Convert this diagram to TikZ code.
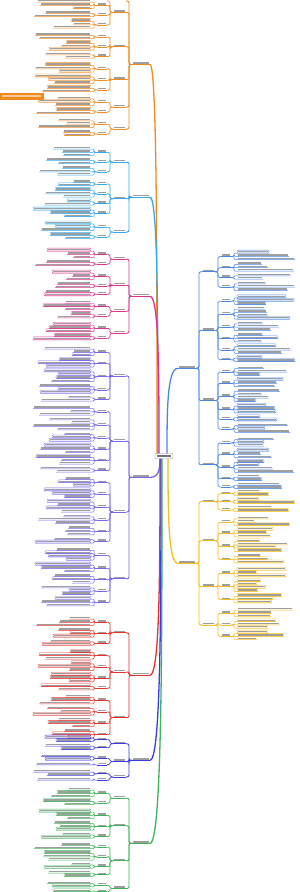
\documentclass[tikz,border=0pt]{standalone}
\usetikzlibrary{calc}
\definecolor{cOr}{HTML}{F28A1E}
\definecolor{cLb}{HTML}{33AAEE}
\definecolor{cMg}{HTML}{E0338F}
\definecolor{cPu}{HTML}{7466EE}
\definecolor{cRd}{HTML}{E8302A}
\definecolor{cBl}{HTML}{3A3AE8}
\definecolor{cGr}{HTML}{3DB35A}
\definecolor{cRb}{HTML}{4A86E8}
\definecolor{cYe}{HTML}{F7BE1A}
\tikzset{txt/.style={fill=black!38}}
\newcommand\dl{3.3}
\newcommand\gthree{1.5}
\newcommand\gtwo{2.5}
\newcommand\sd{-1}
\newcommand\bc{cOr}
\newcommand\tx{158}
\newcommand\curY{0}
\newcommand\lthreeF{}\newcommand\lthreeL{}\newcommand\lthreeList{}
\newcommand\ltwoF{}\newcommand\ltwoL{}\newcommand\ltwoList{}
\newcommand\xp[1]{(164+(\sd)*(#1))}
\newcommand\labl[4]{%
 \draw[\bc,line width=#4] ({\xp{#2}},#1) -- ({\xp{#3}},#1);
 \fill[txt] ({\xp{#2+1}},{#1-0.8}) rectangle ({\xp{#3-1}},{#1-2.1});}
\newcommand\B[4]{\xdef\bc{#1}\xdef\sd{#2}\xdef\curY{#3}\xdef\tx{#4}}
\newcommand\G[1]{%
 \pgfmathsetmacro\yA{\curY+2}%
 \pgfmathsetmacro\yB{\yA+(#1-1)*\dl}%
 \pgfmathsetmacro\yM{(\yA+\yB)/2}%
 \labl{\yM}{57}{67}{.6pt}%
 \foreach \i in {1,...,#1}{%
   \pgfmathsetmacro\yy{\yA+(\i-1)*\dl}%
   \pgfmathrandominteger{\ww}{18}{58}%
   \pgfmathrandominteger{\bx}{0}{1}%
   \draw[\bc,line width=.5pt,rounded corners=1pt] ({\xp{67}},\yM) -- ({\xp{70}},\yM) |- ({\xp{73}},\yy) -- ({\xp{73+\ww}},\yy);
   \ifnum\bx=0 \draw[\bc,line width=.35pt,rounded corners=.8pt] ({\xp{73}},\yy) rectangle ({\xp{73+\ww}},{\yy-2.9});\fi
   \fill[txt] ({\xp{74}},{\yy-0.8}) rectangle ({\xp{72+\ww}},{\yy-2.1});
 }%
 \ifx\lthreeF\empty\xdef\lthreeF{\yM}\xdef\lthreeList{\yM}\else\xdef\lthreeList{\lthreeList,\yM}\fi
 \xdef\lthreeL{\yM}%
 \pgfmathsetmacro\tmp{\yB+\dl-2+\gthree}\xdef\curY{\tmp}%
}
\newcommand\T{%
 \pgfmathsetmacro\yT{(\lthreeF+\lthreeL)/2}%
 \labl{\yT}{38}{51}{.8pt}%
 \foreach \q in \lthreeList {\draw[\bc,line width=.7pt,rounded corners=1.5pt] ({\xp{51}},\yT) -- ({\xp{54}},\yT) |- ({\xp{57}},\q);}%
 \ifx\ltwoF\empty\xdef\ltwoF{\yT}\xdef\ltwoList{\yT}\else\xdef\ltwoList{\ltwoList,\yT}\fi
 \xdef\ltwoL{\yT}%
 \xdef\lthreeF{}\xdef\lthreeL{}\xdef\lthreeList{}%
 \pgfmathsetmacro\tmp{\curY+\gtwo}\xdef\curY{\tmp}%
}
\newcommand\M{%
 \pgfmathsetmacro\yR{(\ltwoF+\ltwoL)/2}%
 \draw[\bc,line width=1.3pt] (\tx,456) .. controls (\tx,{(456+\yR)/2}) and (\tx,\yR) .. ({\xp{14}},\yR);
 \labl{\yR}{14}{32}{1pt}%
 \foreach \q in \ltwoList {\draw[\bc,line width=.9pt,rounded corners=2pt] ({\xp{32}},\yR) -- ({\xp{35}},\yR) |- ({\xp{38}},\q);}%
 \xdef\ltwoF{}\xdef\ltwoL{}\xdef\ltwoList{}%
}
\begin{document}
\begin{tikzpicture}[x=1pt,y=-1pt]
\pgfmathsetseed{12}
\fill[white] (0,0) rectangle (300,892);
\useasboundingbox (0,0) rectangle (300,892);
% orange
\B{cOr}{-1}{0}{157}
\G{3}\G{2}\G{3}\T \G{2}\G{3}\G{2}\T \G{3}\G{3}\G{2}\T \G{3}\G{2}\T \G{3}\G{2}\T \M
\fill[cOr] (0,93) rectangle (44,99.5);
\fill[white,opacity=.55] (2,95.4) rectangle (41,96.8);
% light blue
\B{cLb}{-1}{147}{158}
\G{3}\G{2}\G{3}\T \G{2}\G{3}\G{2}\G{3}\T \G{3}\G{2}\T \M
% magenta
\B{cMg}{-1}{249}{159}
\G{3}\G{2}\T \G{3}\G{2}\G{2}\T \G{3}\G{2}\T \G{3}\G{2}\T \M
% purple
\B{cPu}{-1}{347}{160}
\G{3}\G{3}\G{4}\G{3}\G{2}\T
\G{3}\G{4}\G{3}\G{3}\G{3}\G{2}\T
\G{3}\G{3}\G{4}\G{3}\G{3}\G{2}\T
\G{4}\G{3}\G{3}\G{3}\G{3}\T \M
% red
\B{cRd}{-1}{617}{160}
\G{3}\G{3}\G{2}\T \G{3}\G{3}\G{3}\G{2}\T \G{3}\G{3}\G{3}\G{3}\T \M
% blue
\B{cBl}{-1}{736}{161}
\G{2}\G{2}\T \G{2}\G{1}\T \G{2}\G{1}\T \M
% green
\B{cGr}{-1}{788}{162}
\G{3}\G{2}\T \G{3}\G{3}\G{2}\T \G{2}\G{3}\G{2}\G{2}\T \G{2}\G{1}\T \M
% right blue
\B{cRb}{1}{251}{167}
\G{3}\G{3}\G{2}\G{3}\T
\G{3}\G{4}\G{3}\G{3}\G{3}\G{2}\T
\G{3}\G{3}\G{4}\G{3}\G{2}\G{3}\T
\G{3}\G{3}\G{4}\G{2}\G{2}\T \M
% yellow
\B{cYe}{1}{490}{168}
\G{2}\G{2}\G{2}\T \G{3}\G{3}\G{4}\G{3}\T \G{3}\G{4}\G{3}\T \G{3}\G{3}\G{3}\T \M
% centre
\node[draw=black!40,fill=white,rounded corners=1pt,minimum width=18pt,minimum height=5pt,inner sep=0pt] (cen) at (164,456) {};
\fill[black!55] (157,455.3) rectangle (171,456.8);
\end{tikzpicture}
\end{document}
